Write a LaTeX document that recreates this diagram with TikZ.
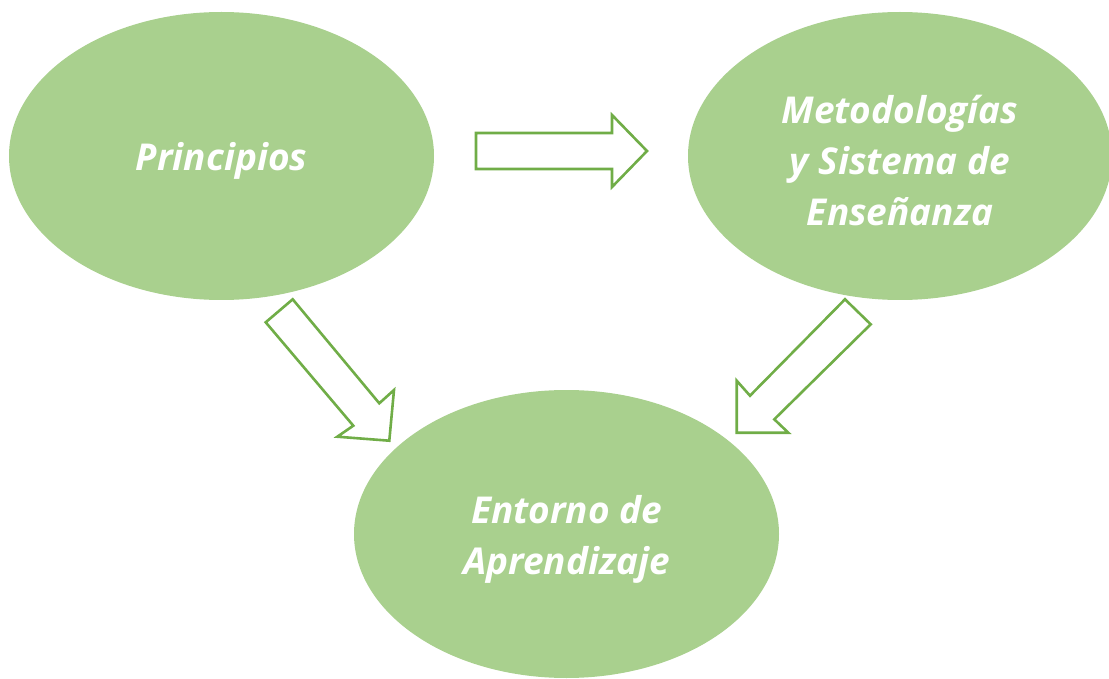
\documentclass[tikz,border=0pt]{standalone}
\usepackage{fontspec}
\setmainfont{Open Sans}
\usetikzlibrary{shapes.geometric}
\definecolor{ellfill}{HTML}{A9D08E}
\definecolor{arrline}{HTML}{70AD47}
\begin{document}
\begin{tikzpicture}[x=1pt,y=-1pt,
  blob/.style={ellipse,fill=ellfill,draw=none,inner sep=0pt},
  blobtext/.style={text=white,align=center,inner sep=0pt,yshift=-5pt,
    font=\fontsize{37}{51}\selectfont\bfseries\itshape},
  blockarrow/.style={draw=arrline,fill=white,line width=2.6pt,line join=miter}]
\useasboundingbox (0,0) rectangle (1109,679);
\node[blob,minimum width=425pt,minimum height=288pt] (prin) at (221.5,156) {};
\node[blob,minimum width=424pt,minimum height=288pt] (meto) at (900,156) {};
\node[blob,minimum width=425pt,minimum height=288pt] (ent) at (566.5,534) {};
\node[blobtext] (prinT) at (prin.center) {Principios};
\node[blobtext] (metoT) at (meto.center) {Metodologías\\y Sistema de\\Enseñanza};
\node[blobtext] (entT) at (ent.center) {Entorno de\\Aprendizaje};
% block arrows
\draw[blockarrow] (476,133) -- (612,133) -- (612,115) -- (647,151) -- (612,187) -- (612,169) -- (476,169) -- cycle;
\draw[blockarrow] (292.7,299.3) -- (379.3,403.3) -- (394,390) -- (389.3,440.7) -- (337.3,436.7) -- (353.3,425.7) -- (265.7,322.3) -- cycle;
\draw[blockarrow] (845,299.3) -- (870.7,324.3) -- (774.3,419.3) -- (788.3,432.7) -- (736.7,432.7) -- (736.7,380.7) -- (750,395.7) -- cycle;
\end{tikzpicture}
\end{document}
